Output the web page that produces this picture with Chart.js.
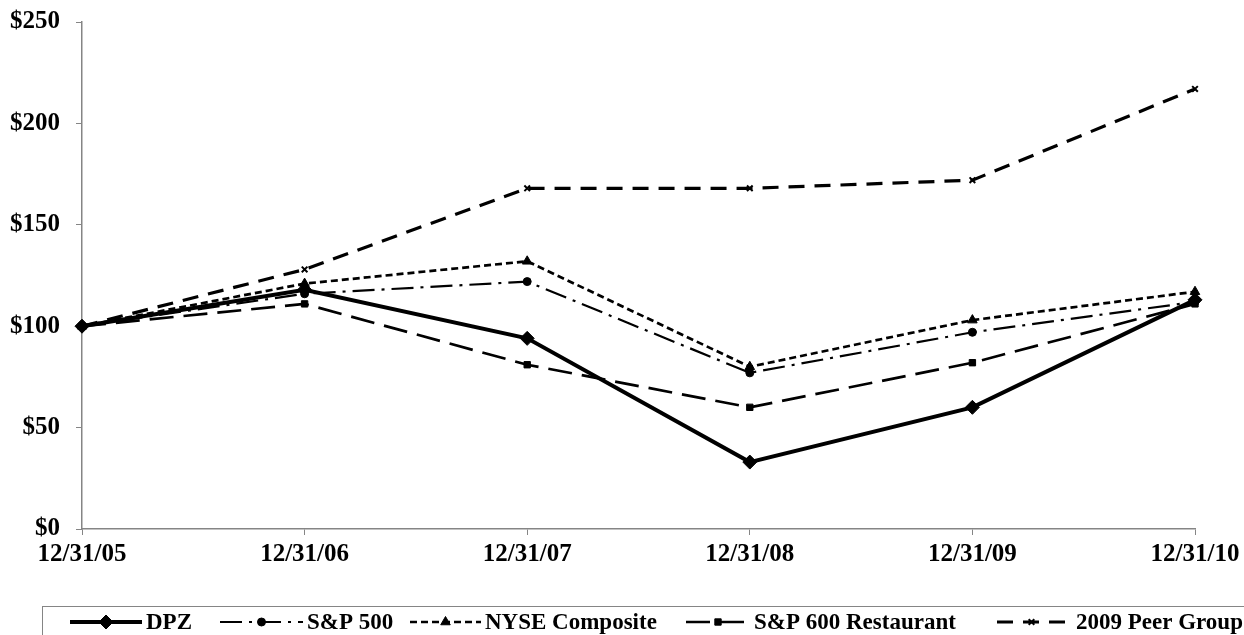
<!DOCTYPE html>
<html>
<head>
<meta charset="utf-8">
<script src="https://cdn.jsdelivr.net/npm/chart.js@4.4.1/dist/chart.umd.min.js"></script>
<style>
  html, body { margin: 0; padding: 0; background: #fff; }
  #wrap { width: 1244px; height: 635px; position: relative; }
</style>
</head>
<body>
<div id="wrap"><canvas id="perf"></canvas></div>
<script>
// cumulative total return, $100 invested 12/31/05
const dates = ['12/31/05', '12/31/06', '12/31/07', '12/31/08', '12/31/09', '12/31/10'];
const dpz = [100, 118, 94, 33, 60, 113];
const sp500 = [100, 116, 122, 77, 97, 112];
const nyse = [100, 121, 132, 80, 103, 117];
const sp600rest = [100, 111, 81, 60, 82, 111];
const peer2009 = [100, 128, 168, 168, 172, 217];
const yTicks = [0, 50, 100, 150, 200, 250];

const serif = "'Liberation Serif', 'Times New Roman', serif";
const axisGray = '#858585';

function line(label, data, dash, width, style, radius) {
	return {
		label: label,
		data: data,
		borderColor: '#000',
		backgroundColor: '#000',
		borderWidth: width,
		borderDash: dash,
		pointStyle: style,
		pointRadius: radius,
		pointBorderWidth: style === 'crossRot' ? 2 : 1,
		tension: 0,
		fill: false
	};
}

// legend in a box under the chart, line sample + marker + name
const sampleX = [[70, 142], [220, 303], [410, 481], [686, 750], [997, 1066]];
const boxLegend = {
	id: 'boxLegend',
	afterDraw(chart) {
		const c = chart.ctx;
		c.save();
		c.strokeStyle = axisGray;
		c.lineWidth = 1;
		c.strokeRect(42.5, 606.5, 1260, 60);
		const y = 622;
		chart.data.datasets.forEach((ds, i) => {
			const x0 = sampleX[i][0];
			const x1 = sampleX[i][1];
			c.save();
			c.strokeStyle = '#000';
			c.lineWidth = ds.borderWidth;
			c.setLineDash(ds.borderDash || []);
			c.beginPath();
			c.moveTo(x0, y);
			c.lineTo(x1, y);
			c.stroke();
			c.restore();
			c.save();
			c.fillStyle = '#000';
			c.strokeStyle = '#000';
			c.lineWidth = ds.pointBorderWidth;
			Chart.helpers.drawPoint(c, {pointStyle: ds.pointStyle, radius: ds.pointRadius, rotation: 0, borderWidth: ds.pointBorderWidth}, (x0 + x1) / 2, y);
			c.restore();
			c.fillStyle = '#000';
			c.font = 'bold 23px ' + serif;
			c.textBaseline = 'middle';
			c.textAlign = 'left';
			c.fillText(ds.label, x1 + (i === 4 ? 10 : 4), y + 1);
		});
		c.restore();
	}
};

const chart = new Chart(document.getElementById('perf').getContext('2d'), {
	type: 'line',
	data: {
		labels: dates,
		datasets: [
			line('DPZ', dpz, [], 4, 'rectRot', 7),
			line('S&P 500', sp500, [22, 7, 3, 7], 2.2, 'circle', 4),
			line('NYSE Composite', nyse, [7, 4], 2.7, 'triangle', 5.5),
			line('S&P 600 Restaurant', sp600rest, [24, 10], 2.7, 'rect', 4.5),
			line('2009 Peer Group', peer2009, [16, 10], 3.2, 'crossRot', 4)
		]
	},
	options: {
		responsive: true,
		maintainAspectRatio: false,
		animation: false,
		layout: { padding: { top: 22, right: 49, left: 0, bottom: 0 } },
		plugins: {
			legend: { display: false },
			tooltip: { enabled: false }
		},
		scales: {
			x: {
				offset: false,
				grid: { display: true, drawOnChartArea: false, drawTicks: true, tickLength: 6, color: axisGray },
				border: { display: true, color: axisGray, width: 1.5 },
				ticks: {
					color: '#000',
					font: { family: serif, size: 25, weight: 'bold' },
					padding: 5,
					maxRotation: 0,
					autoSkip: false
				},
				afterFit(s) { s.height = 106; s.paddingLeft = 0; s.paddingRight = 0; }
			},
			y: {
				min: 0,
				max: 250,
				grid: { display: true, drawOnChartArea: false, drawTicks: true, tickLength: 6, color: axisGray },
				border: { display: true, color: axisGray, width: 1.5 },
				afterBuildTicks(s) { s.ticks = yTicks.map(v => ({ value: v })); },
				ticks: {
					color: '#000',
					font: { family: serif, size: 25, weight: 'bold' },
					padding: 16,
					callback: v => '$' + v
				},
				afterFit(s) { s.width = 82; s.paddingTop = 0; s.paddingBottom = 0; }
			}
		}
	},
	plugins: [boxLegend]
});
</script>
</body>
</html>
